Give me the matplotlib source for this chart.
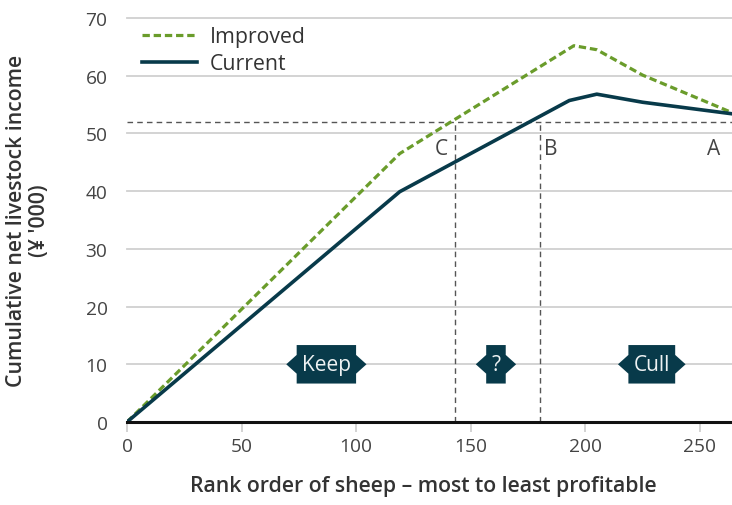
import matplotlib
matplotlib.use("Agg")
import matplotlib.pyplot as plt
from matplotlib.path import Path

plt.rcParams['font.family'] = ['Open Sans', 'DejaVu Sans']

# Data
improved_x = [0, 119, 195, 205, 225, 264]
improved_y = [0, 46.5, 65.2, 64.5, 60.1, 53.6]
current_x = [0, 119, 193, 205, 225, 264]
current_y = [0, 39.9, 55.7, 56.8, 55.4, 53.4]
threshold_y = 51.9
c_x = 143
b_x = 180
point_labels = ["C", "B", "A"]
point_label_x = [140, 182, 256]
zone_labels = ["Keep", "?", "Cull"]
zone_x = [87, 161, 229]
zone_y = 10
x_ticks = [0, 50, 100, 150, 200, 250]
y_ticks = [0, 10, 20, 30, 40, 50, 60, 70]

GREEN = '#6a9c2b'
NAVY = '#083a4a'
TEXT = '#444444'

fig = plt.figure(figsize=(7.32, 5.06), dpi=100)
ax = fig.add_axes([0.1735, 0.164, 0.8265, 0.7985])

ax.set_xlim(0, 264)
ax.set_ylim(0, 70)

for y in y_ticks[1:]:
    ax.axhline(y, color='#d0d0d0', lw=1.3, zorder=0, clip_on=False)

ax.plot(improved_x, improved_y, color=GREEN, lw=2.3, ls=(0, (2.3, 1.2)), label='Improved', zorder=3)
ax.plot(current_x, current_y, color=NAVY, lw=2.6, label='Current', zorder=4)

# threshold lines
ax.plot([0, 264], [threshold_y, threshold_y], color='#555555', lw=1, ls=(0, (4, 3)), zorder=2)
ax.plot([c_x, c_x], [0, threshold_y], color='#555555', lw=1, ls=(0, (4, 3)), zorder=2)
ax.plot([b_x, b_x], [0, threshold_y], color='#555555', lw=1, ls=(0, (4, 3)), zorder=2)

for lab, x in zip(point_labels, point_label_x):
    ha = 'right' if lab == 'C' else ('left' if lab == 'B' else 'center')
    ax.text(x, 47.3, lab, ha=ha, va='center', fontsize=15, color=TEXT)


def tag_box(x0, y0, width, height, mutation_size):
    pad = 0.25 * mutation_size
    vpad = 0.42 * mutation_size
    x0 -= pad
    y0 -= vpad
    width += 2 * pad
    height += 2 * vpad
    ym = y0 + height / 2
    tip = 0.5 * mutation_size
    half = 0.45 * mutation_size
    verts = [(x0, y0), (x0 + width, y0), (x0 + width, ym - half), (x0 + width + tip, ym),
             (x0 + width, ym + half), (x0 + width, y0 + height), (x0, y0 + height),
             (x0, ym + half), (x0 - tip, ym), (x0, ym - half), (x0, y0)]
    codes = [Path.MOVETO] + [Path.LINETO] * (len(verts) - 2) + [Path.CLOSEPOLY]
    return Path(verts, codes)


for lab, x in zip(zone_labels, zone_x):
    ax.text(x, zone_y, lab, ha='center', va='center', fontsize=15, color='#eef2f3', zorder=6,
            bbox=dict(boxstyle=tag_box, fc=NAVY, ec='none'))

for s in ['top', 'right', 'left']:
    ax.spines[s].set_visible(False)
ax.spines['bottom'].set_color('#111111')
ax.spines['bottom'].set_linewidth(2.2)
ax.spines['bottom'].set_zorder(5)

ax.set_xticks(x_ticks)
ax.set_yticks(y_ticks)
ax.tick_params(axis='x', colors='#cccccc', length=7, width=1.2, labelcolor=TEXT, labelsize=13.8, pad=4)
ax.tick_params(axis='y', length=0, labelcolor=TEXT, labelsize=13.8, pad=14)

ax.set_xlabel('Rank order of sheep – most to least profitable', fontsize=15.3, fontweight='semibold',
              color='#333333')
ax.xaxis.set_label_coords(0.49, -0.13)
ax.set_ylabel("Cumulative net livestock income\n(¥ '000)", fontsize=15.3, fontweight='semibold',
              color='#333333', linespacing=1.15)
ax.yaxis.set_label_coords(-0.127, 0.5)

leg = ax.legend(loc='upper left', bbox_to_anchor=(0.014, 0.995), frameon=False, fontsize=15.3,
                handlelength=2.6, handletextpad=0.6, labelspacing=0.28, borderaxespad=0.1,
                borderpad=0.2)
for t in leg.get_texts():
    t.set_color('#333333')

fig.savefig('out.png', dpi=100)
